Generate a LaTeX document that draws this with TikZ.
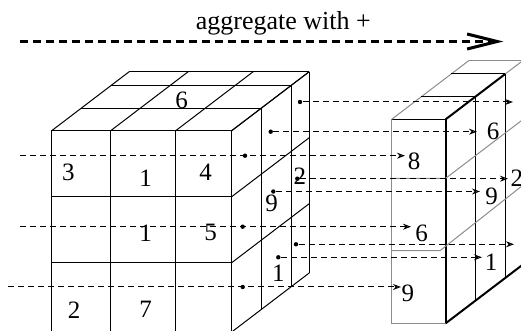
\documentclass[tikz,border=0pt]{standalone}
\usepackage{fontspec}
\setmainfont{Liberation Serif}
\usepackage{xcolor}
\usetikzlibrary{arrows.meta, calc}
\definecolor{AG_GREY}{HTML}{8c8c8c}
\tikzset{
  edge/.style={line width=0.5pt, draw=black},
  slab/.style={line width=1pt, draw=black},
  ghost/.style={line width=0.5pt, draw=AG_GREY},
  flow/.style={dash pattern=on 3pt off 2pt, line width=0.5pt,
    -{Stealth[open, length=4pt, width=3pt]}},
  agg/.style={dash pattern=on 4pt off 2.5pt, line width=1.5pt,
    -{Straight Barb[length=15pt, width=7.5pt]}},
  src/.style={circle, fill=black, inner sep=0pt, minimum size=2.2pt},
  num/.style={inner sep=0pt, font=\fontsize{12.5}{15}\selectfont},
}

\begin{document}
\begin{tikzpicture}[x=0.5pt, y=-0.5pt]
  \useasboundingbox (0,0) rectangle (521,331);
  \clip (0,0) rectangle (521,331);

  % title and aggregation arrow
  \node[anchor=base, inner sep=0pt, font=\fontsize{13}{15}\selectfont] (title)
    at (283.3,30) {aggregate with +};
  \coordinate (aggL) at (20,41.5);
  \coordinate (aggR) at (503.3,41.5);
  \draw[agg] (aggL) -- (aggR);

  % left cube: front face
  \draw[edge] (51.7,130.7) rectangle (231.7,332);
  \foreach \x in {110.7,175.7}
    \draw[edge] (\x,130.7) -- (\x,332);
  \foreach \y in {196.7,262.7}
    \draw[edge] (51.7,\y) -- (231.7,\y);
  % left cube: top face
  \foreach \x in {51.7,110.7,175.7,231.7}
    \draw[edge] (\x,130.7) -- ++(77.5,-59);
  \foreach \d in {0.38,0.77,1}
    \draw[edge] ($(51.7,130.7)+\d*(77.5,-59)$) -- ++(180,0);
  % left cube: right face
  \foreach \y in {130.7,196.7,262.7,332}
    \draw[edge] (231.7,\y) -- ++(77.5,-59);
  \foreach \d in {0.38,0.77,1}
    \draw[edge] ($(231.7,130.7)+\d*(77.5,-59)$) -- ++(0,201.3);

  % right slab
  \draw[ghost] (445.7,323.3) -- (391.7,323.3) -- (391.7,119.3);
  \draw[edge] (391.7,119.3) -- (445.7,119.3);
  \draw[slab] (445.7,119.3) -- (445.7,323.3);
  \draw[ghost] (391.7,119.3) -- ++(77.5,-59);
  \draw[edge] ($(391.7,119.3)+0.38*(77.5,-59)$) -- ++(54,0);
  \draw[edge] ($(391.7,119.3)+0.77*(77.5,-59)$) -- ++(54,0);
  \draw[ghost] ($(391.7,119.3)+(77.5,-59)$) -- ++(54,0);
  \draw[slab] (445.7,119.3) -- ($(445.7,119.3)+0.77*(77.5,-59)$);
  \draw[ghost] ($(445.7,119.3)+0.77*(77.5,-59)$) -- ++($0.23*(77.5,-59)$);
  \draw[edge] ($(445.7,119.3)+0.38*(77.5,-59)$) -- ++(0,204);
  \draw[edge] ($(445.7,119.3)+0.77*(77.5,-59)$) -- ++(0,204);
  \draw[slab] (445.7,323.3) -- ++(77.5,-59);
  \draw[ghost] (391.7,178.3) -- (445.7,178.3) -- ++(77.5,-59);
  \draw[ghost] (391.7,250.7) -- (440,250.7) -- ++(81,-64);

  % sources and targets
  \node[src] (s1) at (300,102) {};
  \node[src] (s2) at (270.7,131.7) {};
  \node[src] (s3) at (245,155.7) {};
  \node[src] (s4) at (297.3,178.7) {};
  \node[src] (s5) at (273.3,191.5) {};
  \node[src] (s6) at (242.7,226.7) {};
  \node[src] (s7) at (296,244.3) {};
  \node[src] (s8) at (278.3,257.3) {};
  \node[src] (s9) at (242.7,287) {};
  \coordinate (a3) at (20,155.7);
  \coordinate (a6) at (20,226.7);
  \coordinate (a9) at (8,287);
  \coordinate (t1) at (513,102);
  \coordinate (t2) at (477,131.7);
  \coordinate (t3) at (405,155.7);
  \coordinate (t4) at (508,178.7);
  \coordinate (t5) at (480,191.5);
  \coordinate (t6) at (411,226.7);
  \coordinate (t7) at (514,244.3);
  \coordinate (t8) at (482,257.3);
  \coordinate (t9) at (401,287);

  \draw[flow] (s1) -- (t1);
  \draw[flow] (s2) -- (t2);
  \draw[flow] (a3) -- (t3);
  \draw[flow] (s4) -- (t4);
  \draw[flow] (s5) -- (t5);
  \draw[flow] (a6) -- (t6);
  \draw[flow] (s7) -- (t7);
  \draw[flow] (s8) -- (t8);
  \draw[flow] (a9) -- (t9);

  % values in the cube
  \node[num] (v3)  at (68.3,172.2)  {3};
  \node[num] (v1a) at (145.7,178.3) {1};
  \node[num] (v4)  at (205.7,172.7) {4};
  \node[num] (v1b) at (145.7,233.3) {1};
  \node[num] (v5)  at (210.7,232.7) {5};
  \node[num] (v2a) at (74,310)      {2};
  \node[num] (v7)  at (145.7,309.3) {7};
  \node[num] (v6a) at (181.7,100)   {6};
  \node[num] (v2b) at (300,176.7)   {2};
  \node[num] (v9a) at (271.7,203.3) {9};
  \node[num] (v1c) at (278.3,273.3) {1};

  % aggregated values
  \node[num] (r6a) at (493,131.7)   {6};
  \node[num] (r8)  at (414,161)     {8};
  \node[num] (r2)  at (517,178.3)   {2};
  \node[num] (r9a) at (491.7,196.7) {9};
  \node[num] (r6b) at (421.7,233)   {6};
  \node[num] (r1)  at (491,262.5)   {1};
  \node[num] (r9b) at (408,293)     {9};

\end{tikzpicture}
\end{document}
